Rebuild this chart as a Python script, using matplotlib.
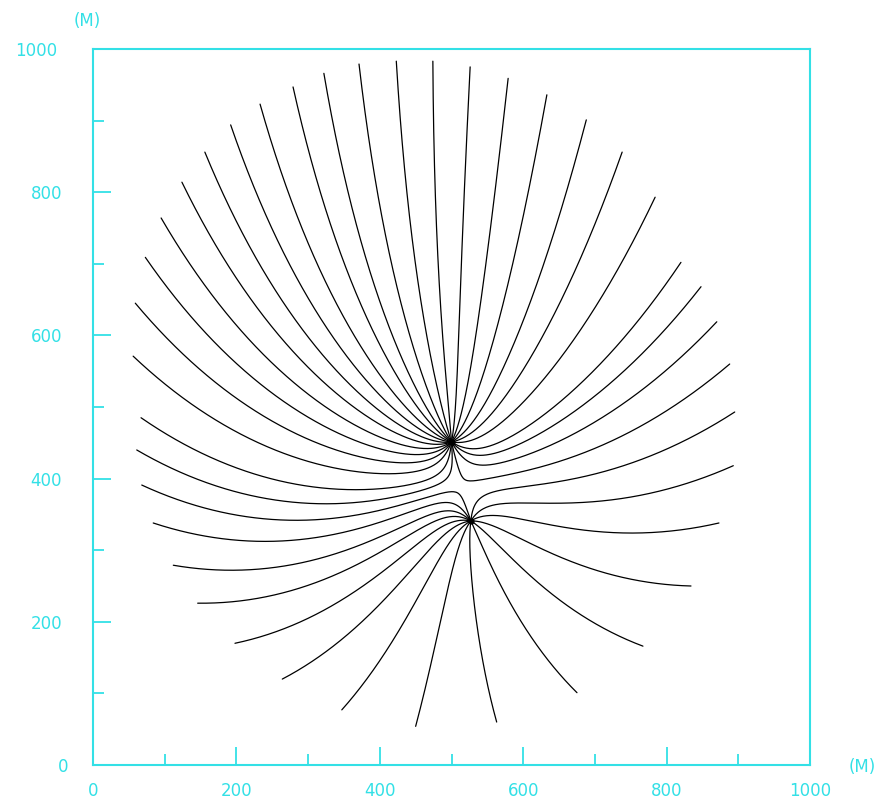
import math
import numpy as np
import matplotlib
matplotlib.use("Agg")
import matplotlib.pyplot as plt
from matplotlib.transforms import ScaledTranslation

# ---------------- data (metres) ----------------
# pumping wells
well_x = [500, 527]
well_y = [451, 341]
well_strength = [325, 235]          # Q/(2*pi) relative to regional flux
regional_flow = (-0.05, -0.60)      # regional groundwater flow vector

# outer start point of every pathline
start_x = [264, 198, 146, 112, 84, 68, 61, 67, 56, 59, 73, 95, 124, 156,
           192, 233, 279, 322, 371, 423, 474, 526, 579, 633, 688, 738,
           784, 820, 848, 870, 888, 895, 893, 873, 834, 767, 675, 563,
           450, 347]
start_y = [120, 170, 226, 279, 338, 391, 440, 485, 571, 645, 709, 764,
           814, 856, 894, 923, 947, 966, 979, 983, 983, 975, 959, 936,
           901, 856, 793, 702, 668, 619, 560, 493, 418, 338, 250, 166,
           101, 60, 54, 77]

x_ticks = [0, 200, 400, 600, 800, 1000]
y_ticks = [0, 200, 400, 600, 800, 1000]
minor_ticks = [100, 300, 500, 700, 900]
unit_label = "(M)"

CYAN = "#33E0E6"


def direction(px, py):
    vx, vy = regional_flow
    for wx, wy, q in zip(well_x, well_y, well_strength):
        dx = px - wx
        dy = py - wy
        r2 = dx * dx + dy * dy
        vx -= q * dx / r2
        vy -= q * dy / r2
    n = math.hypot(vx, vy)
    return vx / n, vy / n


def trace(x, y, step=1.5, capture=2.5, max_steps=3000):
    xs, ys = [x], [y]
    for _ in range(max_steps):
        for wx, wy in zip(well_x, well_y):
            if math.hypot(x - wx, y - wy) < capture:
                xs.append(wx)
                ys.append(wy)
                return xs, ys
        a, b = direction(x, y)
        a, b = direction(x + 0.5 * step * a, y + 0.5 * step * b)
        x += step * a
        y += step * b
        xs.append(x)
        ys.append(y)
    return xs, ys


W, H, DPI = 881, 802, 100
fig = plt.figure(figsize=(W / DPI, H / DPI), dpi=DPI)
ax = fig.add_axes([93 / W, 1 - 765 / H, 717 / W, 716 / H])

for x0, y0 in zip(start_x, start_y):
    xs, ys = trace(float(x0), float(y0))
    ax.plot(xs, ys, color="black", lw=0.9, solid_capstyle="round")

ax.plot(well_x, well_y, "o", color="black", ms=3.5, zorder=5)

ax.set_xlim(0, 1000)
ax.set_ylim(0, 1000)

for s in ax.spines.values():
    s.set_color(CYAN)
    s.set_linewidth(1.5)

ax.set_xticks(x_ticks)
ax.set_yticks(y_ticks)
ax.set_xticks(minor_ticks, minor=True)
ax.set_yticks(minor_ticks, minor=True)
ax.set_xticklabels([str(v) for v in x_ticks])
ax.set_yticklabels([str(v) for v in y_ticks])
ax.tick_params(which="major", direction="in", length=13, width=1.3,
               color=CYAN, labelcolor=CYAN, labelsize=12)
ax.tick_params(which="minor", direction="in", length=8, width=1.3,
               color=CYAN)
ax.tick_params(axis="x", which="major", pad=12)
ax.tick_params(axis="y", which="major", pad=18)

for lab in ax.get_yticklabels():
    n = len(lab.get_text())
    dx = {1: 0, 2: -3, 3: -6, 4: -11}.get(n, 0)
    lab.set_transform(lab.get_transform() +
                      ScaledTranslation(dx / DPI, 0, fig.dpi_scale_trans))

fig.text(87 / W, 1 - 21 / H, unit_label, color=CYAN, fontsize=12,
         ha="center", va="center")
fig.text(862 / W, 1 - 767 / H, unit_label, color=CYAN, fontsize=12,
         ha="center", va="center")

fig.savefig("out.png", dpi=DPI)
